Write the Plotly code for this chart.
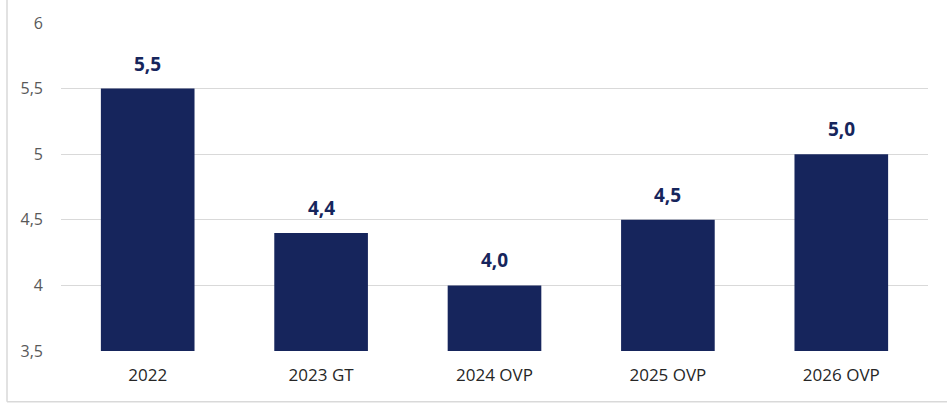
import plotly.graph_objects as go

categories = ["2022", "2023 GT", "2024 OVP", "2025 OVP", "2026 OVP"]
values = [5.5, 4.4, 4.0, 4.5, 5.0]
labels = ["5,5", "4,4", "4,0", "4,5", "5,0"]
tick_vals = [3.5, 4, 4.5, 5, 5.5, 6]
tick_text = ["3,5", "4", "4,5", "5", "5,5", "6"]

navy = "#16255c"
font = "Open Sans, Liberation Sans, sans-serif"

fig = go.Figure(go.Bar(
    x=categories, y=[v - 3.5 for v in values], base=3.5,
    marker=dict(color=navy, line=dict(width=0)),
    hoverinfo="skip",
))

for i, (v, t) in enumerate(zip(values, labels)):
    fig.add_annotation(x=i, y=v, text="<b>%s</b>" % t, showarrow=False,
                       yanchor="bottom", yshift=10,
                       font=dict(family=font, size=19, color=navy))

W, H = 947, 404
L, R, T, B = 61, 19, 21, 53
pw = W - L - R
ph = H - T - B

fig.update_layout(
    width=W, height=H,
    margin=dict(l=L, r=R, t=T, b=B),
    paper_bgcolor="white", plot_bgcolor="white",
    bargap=0.46, showlegend=False, hovermode=False,
    font=dict(family=font),
    xaxis=dict(type="category", categoryorder="array", categoryarray=categories,
               tickfont=dict(size=17, color="#262626"), showgrid=False,
               showline=False, ticks="", ticklabelstandoff=12),
    yaxis=dict(range=[3.5, 6], tickvals=tick_vals, ticktext=tick_text,
               tickfont=dict(size=16, color="#595959"), showgrid=True,
               gridcolor="#d9d9d9", gridwidth=1, zeroline=False,
               ticks="", ticklabelstandoff=17),
)
# thin frame lines on the left and bottom edge, placed in paper space
xl = (7 - L) / pw
yb = -(402 - T - ph) / ph
fig.add_shape(type="line", xref="paper", yref="paper",
              x0=xl, x1=xl, y0=(H - T) / ph + 1, y1=yb,
              line=dict(color="#d9d9d9", width=1.5))
fig.add_shape(type="line", xref="paper", yref="paper",
              x0=xl, x1=(W - L) / pw, y0=yb, y1=yb,
              line=dict(color="#d9d9d9", width=1.5))

fig.write_html("out.html", config={"displayModeBar": False},
               post_script="document.body.style.margin='0px';document.body.style.overflow='hidden';")
